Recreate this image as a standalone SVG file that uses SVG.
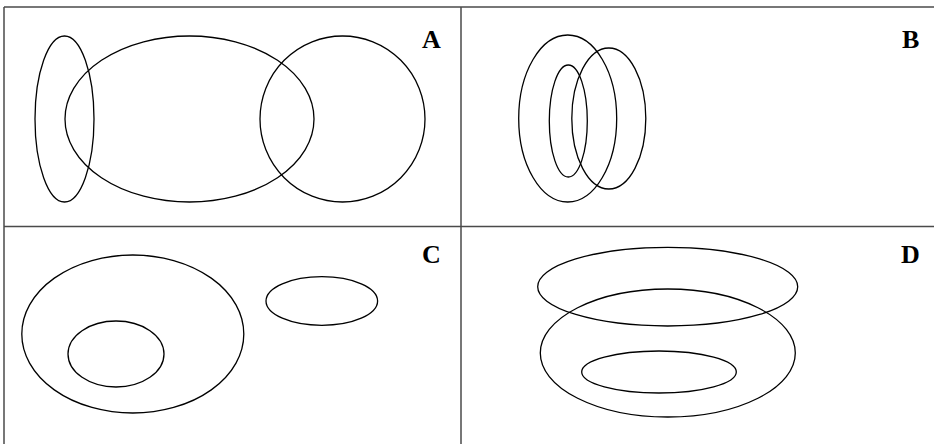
<svg xmlns="http://www.w3.org/2000/svg" width="934" height="444" viewBox="0 0 934 444">
<style>
.frame{fill:none;stroke:#4a4a4a;stroke-width:1.5}
.e{fill:none;stroke:#000;stroke-width:1.3}
.lbl{font-family:"Liberation Serif","Times New Roman",serif;font-weight:bold;font-size:26px;fill:#000}
</style>
<rect width="934" height="444" fill="#fff"/>
<g id="frame">
<line class="frame" x1="4" y1="7" x2="934" y2="7"/>
<line class="frame" x1="4" y1="7" x2="4" y2="444"/>
<line class="frame" x1="4" y1="226.5" x2="934" y2="226.5"/>
<line class="frame" x1="461" y1="7" x2="461" y2="444"/>
</g>
<g id="panelA">
<ellipse class="e" cx="64.5" cy="119" rx="29.5" ry="83"/>
<ellipse class="e" cx="189.5" cy="119" rx="124.5" ry="83"/>
<ellipse class="e" cx="342.5" cy="119" rx="82.5" ry="83"/>
<text class="lbl" x="422" y="47.5">A</text>
</g>
<g id="panelB">
<ellipse class="e" cx="567.7" cy="118.5" rx="49" ry="83.5"/>
<ellipse class="e" cx="568.3" cy="121" rx="19" ry="56"/>
<ellipse class="e" cx="608.8" cy="118.5" rx="37" ry="70.5"/>
<text class="lbl" x="902" y="47.5">B</text>
</g>
<g id="panelC">
<ellipse class="e" cx="132.8" cy="334" rx="111" ry="79"/>
<ellipse class="e" cx="116" cy="354" rx="48" ry="33"/>
<ellipse class="e" cx="321.8" cy="301" rx="55.8" ry="24.3"/>
<text class="lbl" x="422" y="262.5">C</text>
</g>
<g id="panelD">
<ellipse class="e" cx="667.7" cy="286.7" rx="130" ry="39.3"/>
<ellipse class="e" cx="667.8" cy="353" rx="127.5" ry="64"/>
<ellipse class="e" cx="659" cy="372" rx="77.3" ry="21"/>
<text class="lbl" x="901" y="262.5">D</text>
</g>
</svg>
